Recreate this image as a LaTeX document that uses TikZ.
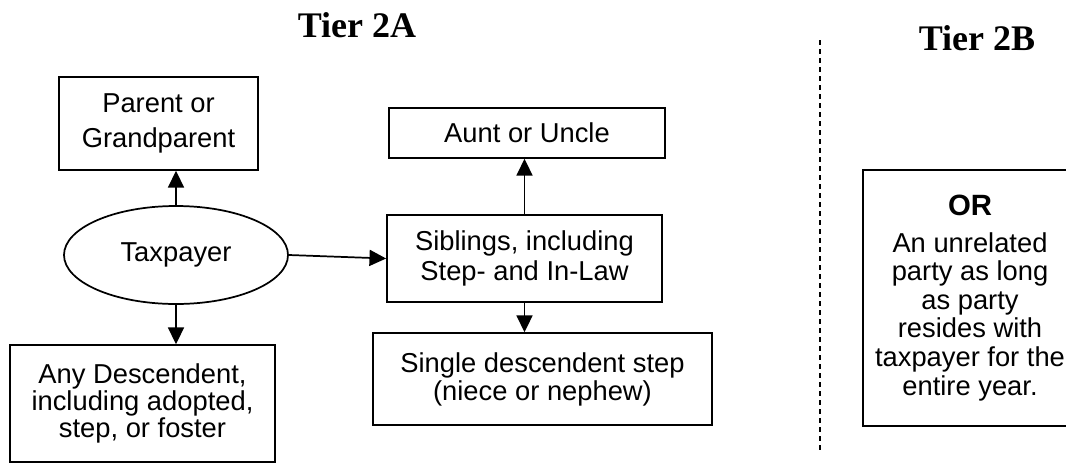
\documentclass[tikz,border=0pt]{standalone}
\usepackage{fontspec}
\setmainfont{Liberation Sans}
\newfontfamily\titlefont{Liberation Serif}
\usetikzlibrary{arrows.meta,shapes.geometric}
\begin{document}
\begin{tikzpicture}[x=0.75pt,y=-0.75pt,
  box/.style={draw,line width=1.3pt,inner sep=0pt,align=center,font=\fontsize{20.5pt}{21.5pt}\selectfont},
  arr/.style={line width=1.3pt,-{Triangle[length=12.5pt,width=12pt]}},
  title/.style={font=\titlefont\bfseries\fontsize{27pt}{30pt}\selectfont,anchor=base},
  divider/.style={line width=1pt,dash pattern=on 3.75pt off 3pt},
]
\useasboundingbox (0,0) rectangle (1066,468);
\clip (0,0) rectangle (1066,468);

\node[title] (t2a) at (357,37) {Tier 2A};
\node[title] (t2b) at (977,50) {Tier 2B};

\node[box,minimum width=149.25pt,minimum height=69.75pt,font=\fontsize{20.5pt}{26pt}\selectfont] (parent) at (158.5,123.5) {Parent or\\Grandparent};
\node[box,ellipse,minimum width=168pt,minimum height=73.5pt] (tax) at (176,255) {Taxpayer};
\node[box,minimum width=198.75pt,minimum height=87.75pt,font=\fontsize{20.5pt}{20pt}\selectfont] (desc) at (142.5,403.5) {Any Descendent,\\including adopted,\\step, or foster};

\node[box,minimum width=207pt,minimum height=37.5pt] (aunt) at (527,133) {Aunt or Uncle};
\node[box,minimum width=206.25pt,minimum height=65.25pt,font=\fontsize{20.5pt}{22.5pt}\selectfont] (sib) at (524.5,258.5) {Siblings, including\\Step- and In-Law};
\node[box,minimum width=254.25pt,minimum height=69pt,font=\fontsize{20.5pt}{21pt}\selectfont] (single) at (542.5,379) {Single descendent step\\(niece or nephew)};

\node[box,minimum width=160.5pt,minimum height=192pt,font=\fontsize{20.5pt}{21.4pt}\selectfont] (orbox) at (970,298) {{\fontsize{22pt}{24pt}\selectfont\bfseries OR}\\[6pt]An unrelated\\party as long\\as party\\resides with\\taxpayer for the\\entire year.};

\coordinate (dtop) at (820,40);
\coordinate (dbot) at (820,450);
\draw[divider] (dtop) -- (dbot);

\draw[arr] (tax.north) -- (tax.north |- parent.south);
\draw[arr] (tax.south) -- (tax.south |- desc.north);
\draw[arr] (tax.east) -- (sib.west);
\draw[arr] (sib.north) -- (sib.north |- aunt.south);
\draw[arr] (sib.south) -- (sib.south |- single.north);
\end{tikzpicture}
\end{document}
